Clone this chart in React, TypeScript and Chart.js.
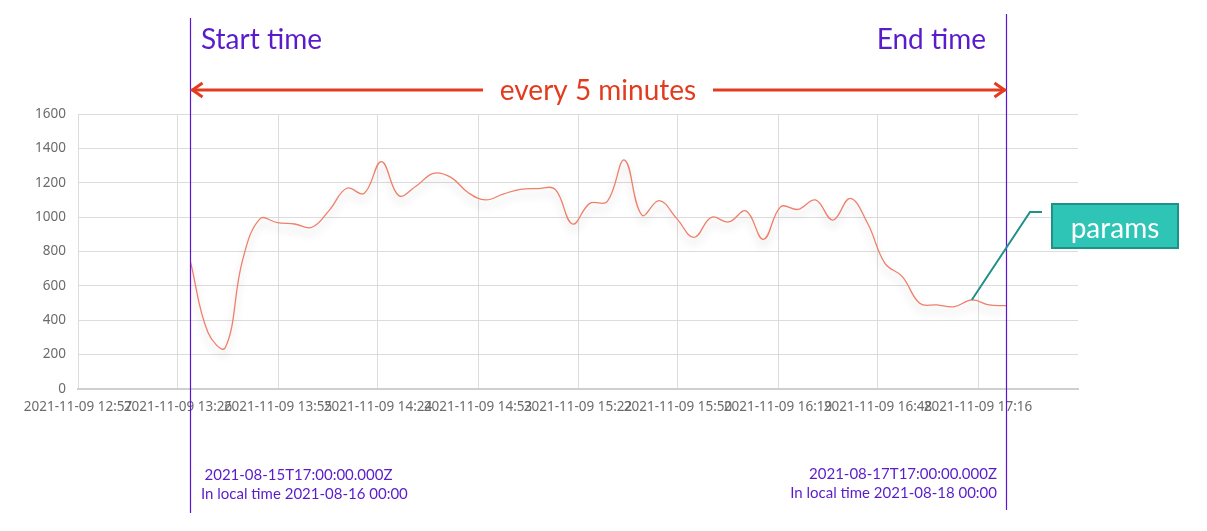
import React, { useEffect, useRef } from "react";
import { Chart, registerables } from "chart.js";

Chart.register(...registerables);

// ---- data ----
const timeTickLabels = [
  "2021-11-09 12:57",
  "2021-11-09 13:26",
  "2021-11-09 13:55",
  "2021-11-09 14:24",
  "2021-11-09 14:53",
  "2021-11-09 15:22",
  "2021-11-09 15:50",
  "2021-11-09 16:19",
  "2021-11-09 16:48",
  "2021-11-09 17:16",
];
const axisStartMinute = 777; // 12:57 in minutes of the day
const tickStepMinutes = 28.8;
const tickSlots = 10;

const sampleStartMinute = 809.4; // first sample (start time)
const sampleStepMinutes = 5; // every 5 minutes
const sampleValues = [
  740, 330, 240, 750, 990, 968, 960, 941, 1041, 1168, 1138, 1323, 1125, 1181,
  1255, 1231, 1142, 1100, 1134, 1162, 1166, 1162, 960, 1080, 1090, 1332, 1012,
  1096, 993, 882, 999, 972, 1036, 871, 1061, 1045, 1100, 983, 1109, 964, 731,
  654, 499, 489, 479, 518, 489, 485,
];
const yMax = 1600;
const yStep = 200;

const startLabel = "Start time";
const endLabel = "End time";
const intervalLabel = "every 5 minutes";
const paramsLabel = "params";
const paramsIndex = 45;
const startNotes = ["2021-08-15T17:00:00.000Z", "In local time 2021-08-16 00:00"];
const endNotes = ["2021-08-17T17:00:00.000Z", "In local time 2021-08-18 00:00"];

const PURPLE = "#5b14d2";
const PURPLE_TEXT = "#5a1ccb";
const RED = "#e33b1e";
const TEAL = "#2ec4b6";
const TEAL_DARK = "#1f9186";

const shadowPlugin = {
  id: "lineShadow",
  beforeDatasetsDraw(chart: any) {
    const ctx = chart.ctx;
    ctx.save();
    ctx.shadowColor = "rgba(0,0,0,0.22)";
    ctx.shadowBlur = 8;
    ctx.shadowOffsetY = 6;
  },
  afterDatasetsDraw(chart: any) {
    chart.ctx.restore();
  },
};

const annotationPlugin = {
  id: "annotations",
  afterDraw(chart: any) {
    const ctx = chart.ctx as CanvasRenderingContext2D;
    const xs = chart.scales.x;
    const ys = chart.scales.y;
    const lastMinute = sampleStartMinute + (sampleValues.length - 1) * sampleStepMinutes;
    const sx = Math.round(xs.getPixelForValue(sampleStartMinute)) + 0.5;
    const ex = Math.round(xs.getPixelForValue(lastMinute)) + 0.5;

    ctx.save();
    // vertical lines
    ctx.strokeStyle = PURPLE;
    ctx.lineWidth = 1.2;
    ctx.beginPath();
    ctx.moveTo(sx, 18);
    ctx.lineTo(sx, 513);
    ctx.moveTo(ex, 14);
    ctx.lineTo(ex, 510);
    ctx.stroke();

    // titles
    ctx.fillStyle = PURPLE_TEXT;
    ctx.font = "28px Lato";
    ctx.textBaseline = "alphabetic";
    ctx.textAlign = "left";
    ctx.fillText(startLabel, sx + 10.5, 49);
    ctx.textAlign = "right";
    ctx.fillText(endLabel, ex - 20.5, 49);

    // arrow
    const ay = 90;
    ctx.strokeStyle = RED;
    ctx.lineWidth = 3;
    ctx.lineCap = "butt";
    ctx.lineJoin = "miter";
    ctx.beginPath();
    ctx.moveTo(sx + 1, ay);
    ctx.lineTo(483, ay);
    ctx.moveTo(713, ay);
    ctx.lineTo(ex - 1, ay);
    ctx.stroke();
    ctx.beginPath();
    ctx.moveTo(sx + 12, ay - 7);
    ctx.lineTo(sx + 2, ay);
    ctx.lineTo(sx + 12, ay + 7);
    ctx.moveTo(ex - 12, ay - 7);
    ctx.lineTo(ex - 2, ay);
    ctx.lineTo(ex - 12, ay + 7);
    ctx.stroke();
    ctx.fillStyle = RED;
    ctx.textAlign = "center";
    ctx.font = "28px Lato";
    ctx.fillText(intervalLabel, 598, 100);

    // params callout
    const px = xs.getPixelForValue(sampleStartMinute + paramsIndex * sampleStepMinutes);
    const py = ys.getPixelForValue(sampleValues[paramsIndex]);
    ctx.strokeStyle = TEAL_DARK;
    ctx.lineWidth = 2;
    ctx.beginPath();
    ctx.moveTo(px, py);
    ctx.lineTo(1030, 212);
    ctx.lineTo(1042, 212);
    ctx.stroke();
    ctx.fillStyle = TEAL;
    ctx.fillRect(1052, 204, 126, 44);
    ctx.strokeStyle = TEAL_DARK;
    ctx.lineWidth = 2;
    ctx.strokeRect(1052, 204, 126, 44);
    ctx.fillStyle = "#ffffff";
    ctx.font = "28px Lato";
    ctx.textAlign = "center";
    ctx.fillText(paramsLabel, 1115, 238);

    // bottom notes
    ctx.fillStyle = PURPLE_TEXT;
    ctx.font = "15px Lato";
    ctx.textAlign = "left";
    ctx.fillText(startNotes[0], sx + 14, 480);
    ctx.fillText(startNotes[1], sx + 10.5, 499);
    ctx.textAlign = "right";
    ctx.fillText(endNotes[0], ex - 9.5, 479);
    ctx.fillText(endNotes[1], ex - 9.5, 498);
    ctx.restore();
  },
};

export default function App() {
  const canvasRef = useRef<HTMLCanvasElement | null>(null);

  useEffect(() => {
    if (!canvasRef.current) return;
    const points = sampleValues.map((v, i) => ({
      x: sampleStartMinute + i * sampleStepMinutes,
      y: v,
    }));
    const chart = new Chart(canvasRef.current, {
      type: "line",
      data: {
        datasets: [
          {
            data: points,
            borderColor: "#ef7f69",
            borderWidth: 1.3,
            pointRadius: 0,
            tension: 0.4,
            fill: false,
          },
        ],
      },
      options: {
        animation: false,
        responsive: true,
        maintainAspectRatio: false,
        layout: { padding: { left: 0, right: 129, top: 114, bottom: 112 } },
        plugins: { legend: { display: false }, tooltip: { enabled: false } },
        scales: {
          x: {
            type: "linear",
            min: axisStartMinute,
            max: axisStartMinute + tickSlots * tickStepMinutes,
            afterBuildTicks: (scale: any) => {
              scale.ticks = timeTickLabels.map((_, i) => ({
                value: axisStartMinute + i * tickStepMinutes,
              }));
            },
            afterFit: (scale: any) => {
              scale.height = 30;
            },
            ticks: {
              autoSkip: false,
              maxRotation: 0,
              minRotation: 0,
              padding: 10,
              color: "#6b6b6b",
              font: { family: "Noto Sans", size: 13.5 },
              callback: (_v: any, i: number) => timeTickLabels[i],
            },
            grid: { color: "#dcdcdc", drawTicks: false, lineWidth: 1 },
            border: { color: "#cfcfcf", width: 2 },
          },
          y: {
            min: 0,
            max: yMax,
            afterFit: (scale: any) => {
              scale.width = 78;
            },
            ticks: {
              stepSize: yStep,
              padding: 12,
              color: "#6b6b6b",
              font: { family: "Noto Sans", size: 13.5 },
              callback: (v: any) => String(v),
            },
            grid: { color: "#dcdcdc", drawTicks: false },
            border: { display: false },
          },
        },
      },
      plugins: [shadowPlugin, annotationPlugin],
    } as any);
    return () => chart.destroy();
  }, []);

  return (
    <div style={{ position: "absolute", left: 0, top: 0, width: 1207, height: 531, background: "#fff" }}>
      <canvas ref={canvasRef} />
    </div>
  );
}
